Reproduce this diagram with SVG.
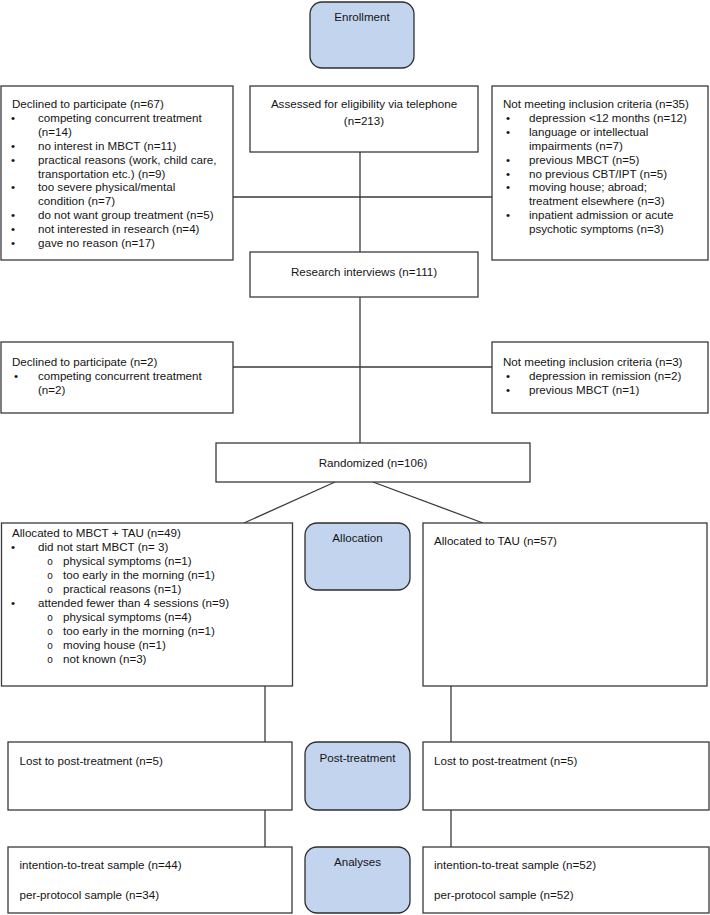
<svg xmlns="http://www.w3.org/2000/svg" width="710" height="915" viewBox="0 0 710 915">
<style>
.box{fill:#ffffff;stroke:#3a3a3a;stroke-width:1.3}
.stage{fill:#c3d5ee;stroke:#2e2e2e;stroke-width:1.3}
.ln{stroke:#3a3a3a;stroke-width:1.3;fill:none}
text{font-family:"Liberation Sans",Arial,sans-serif;font-size:11.6px;fill:#141414}
.c{text-anchor:middle}
.o{font-family:"Liberation Mono","Courier New",monospace;font-size:10px}
</style>
<rect width="710" height="915" fill="#ffffff"/>
<g id="connectors">
<line class="ln" x1="360" y1="152" x2="360" y2="252"/>
<line class="ln" x1="233" y1="197" x2="492" y2="197"/>
<line class="ln" x1="360" y1="297" x2="360" y2="443"/>
<line class="ln" x1="233" y1="367" x2="492" y2="367"/>
<line class="ln" x1="335" y1="482" x2="244" y2="523"/>
<line class="ln" x1="373" y1="482" x2="483" y2="523"/>
<line class="ln" x1="265" y1="686" x2="265" y2="742"/>
<line class="ln" x1="265" y1="810" x2="265" y2="847"/>
<line class="ln" x1="451" y1="686" x2="451" y2="742"/>
<line class="ln" x1="451" y1="810" x2="451" y2="847"/>
</g>
<g id="enrollment">
<rect class="stage" x="310" y="2" width="104" height="66" rx="12"/>
<text class="c" x="362" y="21">Enrollment</text>
</g>
<g id="declined1">
<rect class="box" x="1" y="86" width="232" height="174"/>
<text x="12" y="108">Declined to participate (n=67)</text>
<text x="11" y="122">•</text><text x="38" y="122">competing concurrent treatment</text>
<text x="38" y="136">(n=14)</text>
<text x="11" y="150">•</text><text x="38" y="150">no interest in MBCT (n=11)</text>
<text x="11" y="164">•</text><text x="38" y="164">practical reasons (work, child care,</text>
<text x="38" y="178">transportation etc.) (n=9)</text>
<text x="11" y="191">•</text><text x="38" y="191">too severe physical/mental</text>
<text x="38" y="205">condition (n=7)</text>
<text x="11" y="219">•</text><text x="38" y="219">do not want group treatment (n=5)</text>
<text x="11" y="233">•</text><text x="38" y="233">not interested in research (n=4)</text>
<text x="11" y="247">•</text><text x="38" y="247">gave no reason (n=17)</text>
</g>
<g id="assessed">
<rect class="box" x="250" y="86" width="228" height="66"/>
<text class="c" x="364" y="108">Assessed for eligibility via telephone</text>
<text class="c" x="364" y="125">(n=213)</text>
</g>
<g id="notmeeting1">
<rect class="box" x="492" y="86" width="216" height="174"/>
<text x="503" y="108">Not meeting inclusion criteria (n=35)</text>
<text x="506" y="122">•</text><text x="529" y="122">depression &lt;12 months (n=12)</text>
<text x="506" y="136">•</text><text x="529" y="136">language or intellectual</text>
<text x="529" y="150">impairments (n=7)</text>
<text x="506" y="164">•</text><text x="529" y="164">previous MBCT (n=5)</text>
<text x="506" y="178">•</text><text x="529" y="178">no previous CBT/IPT (n=5)</text>
<text x="506" y="191">•</text><text x="529" y="191">moving house; abroad;</text>
<text x="529" y="205">treatment elsewhere (n=3)</text>
<text x="506" y="219">•</text><text x="529" y="219">inpatient admission or acute</text>
<text x="529" y="233">psychotic symptoms (n=3)</text>
</g>
<g id="interviews">
<rect class="box" x="250" y="252" width="228" height="45"/>
<text class="c" x="364" y="276">Research interviews (n=111)</text>
</g>
<g id="declined2">
<rect class="box" x="1" y="342" width="232" height="71"/>
<text x="12" y="366">Declined to participate (n=2)</text>
<text x="14" y="380">•</text><text x="38" y="380">competing concurrent treatment</text>
<text x="38" y="394">(n=2)</text>
</g>
<g id="notmeeting2">
<rect class="box" x="492" y="342" width="216" height="71"/>
<text x="503" y="366">Not meeting inclusion criteria (n=3)</text>
<text x="506" y="380">•</text><text x="529" y="380">depression in remission (n=2)</text>
<text x="506" y="394">•</text><text x="529" y="394">previous MBCT (n=1)</text>
</g>
<g id="randomized">
<rect class="box" x="216" y="443" width="314" height="39"/>
<text class="c" x="373" y="467">Randomized (n=106)</text>
</g>
<g id="mbct">
<rect class="box" x="1.5" y="523" width="291" height="163"/>
<text x="12" y="537">Allocated to MBCT + TAU (n=49)</text>
<text x="11" y="551">•</text><text x="38" y="551">did not start MBCT (n= 3)</text>
<text class="o" x="47" y="565">o</text><text x="63" y="565">physical symptoms (n=1)</text>
<text class="o" x="47" y="579">o</text><text x="63" y="579">too early in the morning (n=1)</text>
<text class="o" x="47" y="593">o</text><text x="63" y="593">practical reasons (n=1)</text>
<text x="11" y="607">•</text><text x="38" y="607">attended fewer than 4 sessions (n=9)</text>
<text class="o" x="47" y="621">o</text><text x="63" y="621">physical symptoms (n=4)</text>
<text class="o" x="47" y="635">o</text><text x="63" y="635">too early in the morning (n=1)</text>
<text class="o" x="47" y="649">o</text><text x="63" y="649">moving house (n=1)</text>
<text class="o" x="47" y="663">o</text><text x="63" y="663">not known (n=3)</text>
</g>
<g id="allocation">
<rect class="stage" x="305" y="523" width="105" height="67" rx="12"/>
<text class="c" x="357.5" y="542">Allocation</text>
</g>
<g id="tau">
<rect class="box" x="423" y="523" width="284" height="163"/>
<text x="434" y="545">Allocated to TAU (n=57)</text>
</g>
<g id="lost-mbct">
<rect class="box" x="8" y="742" width="284" height="68"/>
<text x="19.5" y="765">Lost to post-treatment (n=5)</text>
</g>
<g id="posttreatment">
<rect class="stage" x="305" y="742" width="105" height="68" rx="12"/>
<text class="c" x="357.5" y="762">Post-treatment</text>
</g>
<g id="lost-tau">
<rect class="box" x="423" y="742" width="286" height="68"/>
<text x="434" y="765">Lost to post-treatment (n=5)</text>
</g>
<g id="analyses-mbct">
<rect class="box" x="8" y="847" width="284" height="66"/>
<text x="19.5" y="869">intention-to-treat sample (n=44)</text>
<text x="19.5" y="899">per-protocol sample (n=34)</text>
</g>
<g id="analyses">
<rect class="stage" x="305" y="847" width="105" height="66" rx="12"/>
<text class="c" x="357.5" y="866">Analyses</text>
</g>
<g id="analyses-tau">
<rect class="box" x="423" y="847" width="286" height="66"/>
<text x="434" y="869">intention-to-treat sample (n=52)</text>
<text x="434" y="899">per-protocol sample (n=52)</text>
</g>
</svg>
